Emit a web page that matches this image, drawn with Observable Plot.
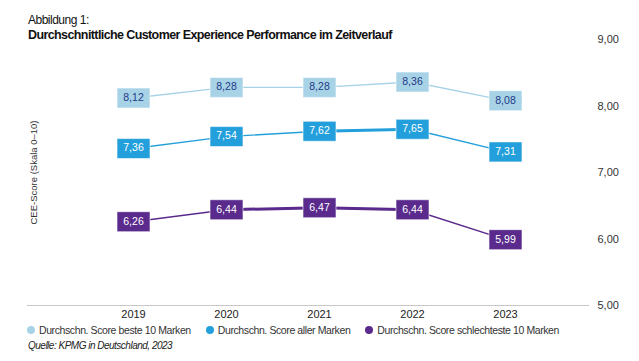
<!DOCTYPE html>
<html><head><meta charset="utf-8">
<script src="https://cdn.jsdelivr.net/npm/d3@7"></script>
<script src="https://cdn.jsdelivr.net/npm/@observablehq/plot@0.6"></script>
<style>
body{margin:0;background:#fff;font-family:"Liberation Sans",Arial,sans-serif;}
#wrap{position:relative;width:639px;height:361px;}
#title{position:absolute;left:28px;top:12px;z-index:2;color:#111;}
#title .a{font-size:12px;line-height:16px;letter-spacing:-0.5px;}
#title .b{font-size:12.5px;font-weight:bold;line-height:15px;letter-spacing:-0.6px;}
#legend{position:absolute;left:27px;top:324px;font-size:10.5px;color:#333;white-space:nowrap;letter-spacing:-0.4px;}
#legend span.item{margin-right:15px;}
#legend i{display:inline-block;width:8px;height:8px;border-radius:50%;margin-right:4px;}
#source{position:absolute;left:28px;top:340px;font-size:10px;font-style:italic;color:#222;letter-spacing:-0.5px;}
</style></head>
<body>
<div id="wrap">
<div id="title"><div class="a">Abbildung 1:</div><div class="b">Durchschnittliche Customer Experience Performance im Zeitverlauf</div></div>
<div id="chart"></div>
<div id="legend"></div>
<div id="source">Quelle: KPMG in Deutschland, 2023</div>
</div>
<script>
const years = ["2019","2020","2021","2022","2023"];
const best = [8.12, 8.28, 8.28, 8.36, 8.08];
const allBrands = [7.36, 7.54, 7.62, 7.65, 7.31];
const worst = [6.26, 6.44, 6.47, 6.44, 5.99];
const seriesNames = ["Durchschn. Score beste 10 Marken","Durchschn. Score aller Marken","Durchschn. Score schlechteste 10 Marken"];
const yTicks = [5, 6, 7, 8, 9];
const yLabel = "CEE-Score (Skala 0–10)";

const colors = ["#a8d3e7", "#23a0db", "#5a2a8c"];
const textColors = ["#1f3a86", "#ffffff", "#ffffff"];
// years between which the drawn line is heavier in the original
const heavySpan = [null, ["2021","2022"], ["2020","2022"]];
const fmt = d => d.toFixed(2).replace(".", ",");

const seriesValues = [best, allBrands, worst];
const rows = [];
seriesValues.forEach((vals, s) => vals.forEach((v, i) => rows.push({year: years[i], value: v, series: seriesNames[s]})));

const box = {draw(ctx) { ctx.rect(-16.5, -10, 33, 20); }};

const marks = [
  Plot.ruleY([5], {stroke: "#c8c8c8", strokeWidth: 1}),
  Plot.axisY({anchor: "right", ticks: yTicks, tickFormat: fmt, tickSize: 0, tickPadding: 8, fontSize: 11, color: "#333", label: null}),
  Plot.axisX({tickSize: 0, tickPadding: 5, fontSize: 11, color: "#222", label: null}),
  Plot.text([yLabel], {frameAnchor: "left", textAnchor: "middle", rotate: -90, dx: 6, fontSize: 9.5, fill: "#333"})
];
seriesNames.forEach((name, s) => {
  const data = rows.filter(r => r.series === name);
  marks.push(Plot.line(data, {x: "year", y: "value", stroke: colors[s], strokeWidth: 1.4}));
  if (heavySpan[s]) {
    const [a, b] = heavySpan[s];
    const sub = data.filter(d => d.year >= a && d.year <= b);
    marks.push(Plot.line(sub, {x: "year", y: "value", stroke: colors[s], strokeWidth: 3}));
  }
  marks.push(Plot.dot(data, {x: "year", y: "value", symbol: box, r: 10, fill: colors[s], stroke: "#ffffff", strokeOpacity: 0.6, strokeWidth: 1}));
  marks.push(Plot.text(data, {x: "year", y: "value", text: d => fmt(d.value), fill: textColors[s], fontSize: 10.5, dy: -0.5}));
});

const chart = Plot.plot({
  width: 639, height: 324,
  marginTop: 39, marginBottom: 19, marginLeft: 27, marginRight: 50,
  style: {fontFamily: '"Liberation Sans", Arial, sans-serif', background: "transparent"},
  x: {type: "point", domain: years, range: [85, 552]},
  y: {domain: [5, 9]},
  marks
});
document.getElementById("chart").appendChild(chart);

const legend = document.getElementById("legend");
seriesNames.forEach((n, s) => {
  const sp = document.createElement("span");
  sp.className = "item";
  const dot = document.createElement("i");
  dot.style.background = colors[s];
  sp.appendChild(dot);
  sp.appendChild(document.createTextNode(n));
  legend.appendChild(sp);
});
</script>
</body></html>
